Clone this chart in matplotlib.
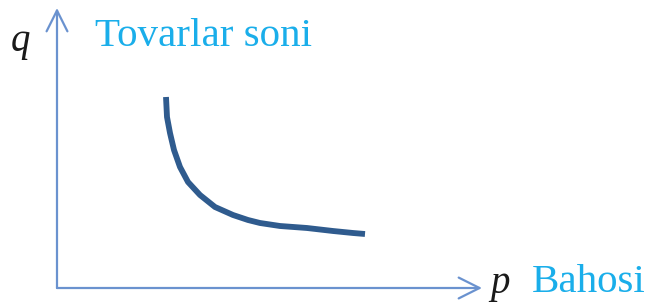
import matplotlib
matplotlib.use("Agg")
import matplotlib.pyplot as plt

# demand curve: price p vs quantity q (arbitrary units, origin at the axes corner)
price = [109, 110, 113, 117, 123, 131, 143, 158, 176, 191, 203, 223, 250, 276, 296, 308]
quantity = [191, 171, 155, 138, 121, 106, 93, 81, 73, 68, 65, 62, 60, 57, 55, 54]
x_label = "Bahosi"
y_label = "Tovarlar soni"

fig = plt.figure(figsize=(6.52, 3.03), dpi=100)
ax = fig.add_axes([0, 0, 1, 1])
ax.set_xlim(-57, 595)
ax.set_ylim(-15, 288)
ax.axis("off")

axis_color = "#6a92cf"
arrow = dict(arrowstyle="->,head_length=1.5,head_width=0.75", color=axis_color, lw=1.6,
             shrinkA=0, shrinkB=0)
ax.annotate("", xy=(0, 280), xytext=(0, 0), arrowprops=arrow)
ax.annotate("", xy=(425, 0), xytext=(0, 0), arrowprops=arrow)

ax.plot(price, quantity, color="#2f5b8e", lw=4.2, solid_capstyle="butt",
        solid_joinstyle="round")

serif = ["Liberation Serif", "DejaVu Serif"]
ax.text(38, 252, y_label, color="#1aaeea", fontsize=29.5, family=serif, va="center", ha="left")
ax.text(475, 6, x_label, color="#1aaeea", fontsize=29.5, family=serif, va="center", ha="left")
ax.text(-37, 246, "q", color="#1a1a1a", fontsize=28, family=serif, style="italic", va="center", ha="center")
ax.text(443, 4, "p", color="#1a1a1a", fontsize=28, family=serif, style="italic", va="center", ha="center")

fig.savefig("out.png", dpi=100)
